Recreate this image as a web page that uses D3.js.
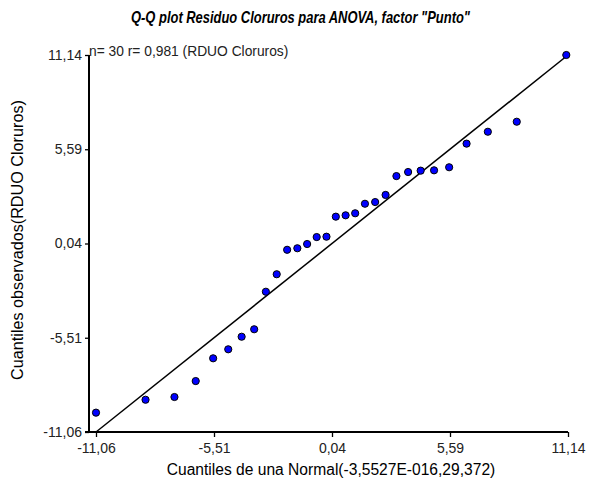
<!DOCTYPE html>
<html>
<head>
<meta charset="utf-8">
<script src="https://cdn.jsdelivr.net/npm/d3@7"></script>
<style>
  html, body { margin: 0; padding: 0; background: #fff; }
  svg { display: block; font-family: "Liberation Sans", Arial, sans-serif; }
</style>
</head>
<body>
<svg id="chart" width="592" height="488"></svg>
<script>
// Theoretical normal quantiles (x) and sorted observed residuals (y)
const normalQuantiles = [
  -11.06, -8.73, -7.37, -6.37, -5.55, -4.84, -4.21, -3.62, -3.07, -2.56,
  -2.07, -1.59, -1.13, -0.68, -0.22, 0.22, 0.68, 1.13, 1.59, 2.07,
  2.56, 3.07, 3.62, 4.21, 4.84, 5.55, 6.37, 7.37, 8.73, 11.06
];
const observedResiduals = [
  -9.92, -9.16, -9.00, -8.06, -6.72, -6.19, -5.45, -5.01, -2.80, -1.77,
  -0.33, -0.24, 0.01, 0.42, 0.44, 1.62, 1.70, 1.82, 2.38, 2.48,
  2.90, 4.01, 4.25, 4.33, 4.35, 4.53, 5.92, 6.62, 7.21, 11.14
];
const xTicks = [-11.06, -5.51, 0.04, 5.59, 11.14];
const yTicks = [-11.06, -5.51, 0.04, 5.59, 11.14];
const axisMin = -11.06, axisMax = 11.14;

const titleText = 'Q-Q plot Residuo Cloruros para ANOVA, factor "Punto"';
const statsText = "n= 30 r= 0,981 (RDUO Cloruros)";
const xLabel = "Cuantiles de una Normal(-3,5527E-016,29,372)";
const yLabel = "Cuantiles observados(RDUO Cloruros)";

const svg = d3.select("#chart");
const x = d3.scaleLinear().domain([axisMin, axisMax]).range([96, 568]);
const y = d3.scaleLinear().domain([axisMin, axisMax]).range([432, 55]);
const fmt = v => v.toFixed(2).replace(".", ",");
const yAxisX = 89;

// Title (condensed bold italic)
svg.append("text")
  .attr("x", 300.5).attr("y", 23)
  .attr("text-anchor", "middle")
  .attr("font-size", 17).attr("font-weight", "bold").attr("font-style", "italic")
  .attr("textLength", 339).attr("lengthAdjust", "spacingAndGlyphs")
  .attr("fill", "#000")
  .text(titleText);

// Y axis
const gy = svg.append("g").attr("transform", `translate(${yAxisX},0)`)
  .call(d3.axisLeft(y).tickValues(yTicks).tickFormat(fmt).tickSize(4).tickSizeOuter(0).tickPadding(3));
gy.select(".domain").remove();
gy.selectAll("line").attr("stroke", "#000").attr("stroke-width", 1.3);
gy.selectAll("text").attr("font-size", 14).attr("fill", "#222").attr("font-family", "Liberation Sans, Arial, sans-serif");
svg.append("line").attr("x1", yAxisX).attr("x2", yAxisX).attr("y1", y(axisMax)).attr("y2", y(axisMin))
  .attr("stroke", "#000").attr("stroke-width", 2);

// X axis
const gx = svg.append("g").attr("transform", `translate(0,${y(axisMin)})`)
  .call(d3.axisBottom(x).tickValues(xTicks).tickFormat(fmt).tickSize(5).tickSizeOuter(0).tickPadding(6));
gx.select(".domain").remove();
gx.selectAll("line").attr("stroke", "#000").attr("stroke-width", 1.3);
gx.selectAll("text").attr("font-size", 14).attr("fill", "#222").attr("font-family", "Liberation Sans, Arial, sans-serif");
svg.append("line").attr("x1", yAxisX - 4).attr("x2", x(axisMax)).attr("y1", y(axisMin)).attr("y2", y(axisMin))
  .attr("stroke", "#000").attr("stroke-width", 2);

// Statistics caption
svg.append("text")
  .attr("x", 89).attr("y", 56)
  .attr("font-size", 13.8).attr("fill", "#222")
  .text(statsText);

// Reference line y = x
svg.append("line")
  .attr("x1", x(axisMin)).attr("y1", y(axisMin))
  .attr("x2", x(axisMax)).attr("y2", y(axisMax))
  .attr("stroke", "#000").attr("stroke-width", 1.5);

// Points
const pts = normalQuantiles.map((q, i) => ({ q, o: observedResiduals[i] }));
svg.append("g").selectAll("circle").data(pts).join("circle")
  .attr("cx", d => x(d.q)).attr("cy", d => y(d.o))
  .attr("r", 3.6)
  .attr("fill", "#0000ff").attr("stroke", "#000").attr("stroke-width", 1);

// Axis titles
svg.append("text")
  .attr("x", 331).attr("y", 475)
  .attr("text-anchor", "middle").attr("font-size", 15.6).attr("fill", "#000")
  .text(xLabel);
svg.append("text")
  .attr("transform", "translate(23,240) rotate(-90)")
  .attr("text-anchor", "middle").attr("font-size", 16.2).attr("fill", "#000")
  .text(yLabel);
</script>
</body>
</html>
